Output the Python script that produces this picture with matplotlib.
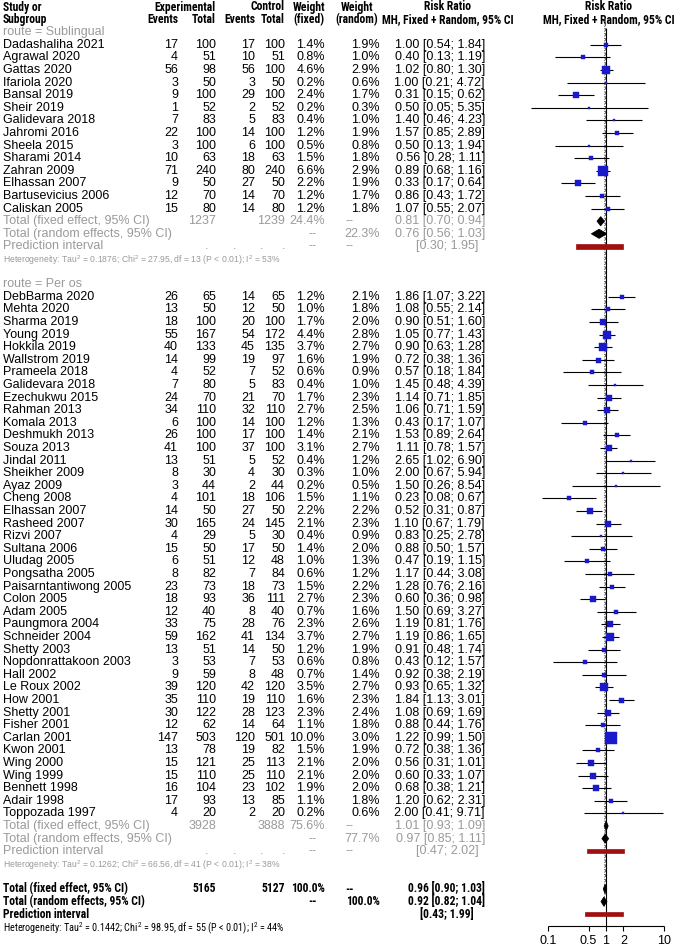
import numpy as np
import matplotlib
matplotlib.use("Agg")
import matplotlib.pyplot as plt
from matplotlib import font_manager
from matplotlib.patches import Polygon, Rectangle

plt.rcParams["font.family"] = ["Liberation Sans", "DejaVu Sans"]
plt.rcParams["mathtext.fontset"] = "custom"
plt.rcParams["mathtext.rm"] = "Liberation Sans"
plt.rcParams["mathtext.default"] = "regular"


def pick_narrow(prefs):
    # first narrow family that also has a bold face
    for name in prefs:
        ws = [f.weight for f in font_manager.fontManager.ttflist if f.name == name]
        if any(w == "bold" or (isinstance(w, int) and w >= 600) for w in ws):
            return name
    return None


NARROW = pick_narrow(["Liberation Sans Narrow", "Arial Narrow", "Roboto Condensed", "PT Sans Narrow"])

# ── Sublingual ──
names_sl = ["Dadashaliha 2021", "Agrawal 2020", "Gattas 2020", "Ifariola 2020", "Bansal 2019",
            "Sheir 2019", "Galidevara 2018", "Jahromi 2016", "Sheela 2015", "Sharami 2014",
            "Zahran 2009", "Elhassan 2007", "Bartusevicius 2006", "Caliskan 2005"]
ev_e_sl = [17, 4, 56, 3, 9, 1, 7, 22, 3, 10, 71, 9, 12, 15]
n_e_sl = [100, 51, 98, 50, 100, 52, 83, 100, 100, 63, 240, 50, 70, 80]
ev_c_sl = [17, 10, 56, 3, 29, 2, 5, 14, 6, 18, 80, 27, 14, 14]
n_c_sl = [100, 51, 100, 50, 100, 52, 83, 100, 100, 63, 240, 50, 70, 80]
wf_sl = [1.4, 0.8, 4.6, 0.2, 2.4, 0.2, 0.4, 1.2, 0.5, 1.5, 6.6, 2.2, 1.2, 1.2]
wr_sl = [1.9, 1.0, 2.9, 0.6, 1.7, 0.3, 1.0, 1.9, 0.8, 1.8, 2.9, 1.9, 1.7, 1.8]
rr_sl = [1.00, 0.40, 1.02, 1.00, 0.31, 0.50, 1.40, 1.57, 0.50, 0.56, 0.89, 0.33, 0.86, 1.07]
lo_sl = [0.54, 0.13, 0.80, 0.21, 0.15, 0.05, 0.46, 0.85, 0.13, 0.28, 0.68, 0.17, 0.43, 0.55]
hi_sl = [1.84, 1.19, 1.30, 4.72, 0.62, 5.35, 4.23, 2.89, 1.94, 1.11, 1.16, 0.64, 1.72, 2.07]

# ── Per os ──
names_po = ["DebBarma 2020", "Mehta 2020", "Sharma 2019", "Young 2019", "Hokkila 2019",
            "Wallstrom 2019", "Prameela 2018", "Galidevara 2018", "Ezechukwu 2015", "Rahman 2013",
            "Komala 2013", "Deshmukh 2013", "Souza 2013", "Jindal 2011", "Sheikher 2009",
            "Ayaz 2009", "Cheng 2008", "Elhassan 2007", "Rasheed 2007", "Rizvi 2007",
            "Sultana 2006", "Uludag 2005", "Pongsatha 2005", "Paisarntantiwong 2005", "Colon 2005",
            "Adam 2005", "Paungmora 2004", "Schneider 2004", "Shetty 2003", "Nopdonrattakoon 2003",
            "Hall 2002", "Le Roux 2002", "How 2001", "Shetty 2001", "Fisher 2001",
            "Carlan 2001", "Kwon 2001", "Wing 2000", "Wing 1999", "Bennett 1998",
            "Adair 1998", "Toppozada 1997"]
ev_e_po = [26, 13, 18, 55, 40, 14, 4, 7, 24, 34, 6, 26, 41, 13, 8, 3, 4, 14, 30, 4,
           15, 6, 8, 23, 18, 12, 33, 59, 13, 3, 9, 39, 35, 30, 12, 147, 13, 15, 15, 16, 17, 4]
n_e_po = [65, 50, 100, 167, 133, 99, 52, 80, 70, 110, 100, 100, 100, 51, 30, 44, 101, 50, 165, 29,
          50, 51, 82, 73, 93, 40, 75, 162, 51, 53, 59, 120, 110, 122, 62, 503, 78, 121, 110, 104, 93, 20]
ev_c_po = [14, 12, 20, 54, 45, 19, 7, 5, 21, 32, 14, 17, 37, 5, 4, 2, 18, 27, 24, 5,
           17, 12, 7, 18, 36, 8, 28, 41, 14, 7, 8, 42, 19, 28, 14, 120, 19, 25, 25, 23, 13, 2]
n_c_po = [65, 50, 100, 172, 135, 97, 52, 83, 70, 110, 100, 100, 100, 52, 30, 44, 106, 50, 145, 30,
          50, 48, 84, 73, 111, 40, 76, 134, 50, 53, 48, 120, 110, 123, 64, 501, 82, 113, 110, 102, 85, 20]
wf_po = [1.2, 1.0, 1.7, 4.4, 3.7, 1.6, 0.6, 0.4, 1.7, 2.7, 1.2, 1.4, 3.1, 0.4, 0.3, 0.2, 1.5, 2.2, 2.1, 0.4,
         1.4, 1.0, 0.6, 1.5, 2.7, 0.7, 2.3, 3.7, 1.2, 0.6, 0.7, 3.5, 1.6, 2.3, 1.1, 10.0, 1.5, 2.1, 2.1, 1.9, 1.1, 0.2]
wr_po = [2.1, 1.8, 2.0, 2.8, 2.7, 1.9, 0.9, 1.0, 2.3, 2.5, 1.3, 2.1, 2.7, 1.2, 1.0, 0.5, 1.1, 2.2, 2.3, 0.9,
         2.0, 1.3, 1.2, 2.2, 2.3, 1.6, 2.6, 2.7, 1.9, 0.8, 1.4, 2.7, 2.3, 2.4, 1.8, 3.0, 1.9, 2.0, 2.0, 2.0, 1.8, 0.6]
rr_po = [1.86, 1.08, 0.90, 1.05, 0.90, 0.72, 0.57, 1.45, 1.14, 1.06, 0.43, 1.53, 1.11, 2.65, 2.00, 1.50, 0.23, 0.52, 1.10, 0.83,
         0.88, 0.47, 1.17, 1.28, 0.60, 1.50, 1.19, 1.19, 0.91, 0.43, 0.92, 0.93, 1.84, 1.08, 0.88, 1.22, 0.72, 0.56, 0.60, 0.68, 1.20, 2.00]
lo_po = [1.07, 0.55, 0.51, 0.77, 0.63, 0.38, 0.18, 0.48, 0.71, 0.71, 0.17, 0.89, 0.78, 1.02, 0.67, 0.26, 0.08, 0.31, 0.67, 0.25,
         0.50, 0.19, 0.44, 0.76, 0.36, 0.69, 0.81, 0.86, 0.48, 0.12, 0.38, 0.65, 1.13, 0.69, 0.44, 0.99, 0.38, 0.31, 0.33, 0.38, 0.62, 0.41]
hi_po = [3.22, 2.14, 1.60, 1.43, 1.28, 1.36, 1.84, 4.39, 1.85, 1.59, 1.07, 2.64, 1.57, 6.90, 5.94, 8.54, 0.67, 0.87, 1.79, 2.78,
         1.57, 1.15, 3.08, 2.16, 0.98, 3.27, 1.76, 1.65, 1.74, 1.57, 2.19, 1.32, 3.01, 1.69, 1.76, 1.50, 1.36, 1.01, 1.07, 1.21, 2.31, 9.71]

# summaries
tot_sl = dict(n_e=1237, n_c=1239, wf="24.4%", wr="22.3%", fixed=(0.81, 0.70, 0.94), random=(0.76, 0.56, 1.03),
              pi=(0.30, 1.95), het=("0.1876", "27.95", "13", "53%"))
tot_po = dict(n_e=3928, n_c=3888, wf="75.6%", wr="77.7%", fixed=(1.01, 0.93, 1.09), random=(0.97, 0.85, 1.11),
              pi=(0.47, 2.02), het=("0.1262", "66.56", "41", "38%"))
tot_all = dict(n_e=5165, n_c=5127, wf="100.0%", wr="100.0%", fixed=(0.96, 0.90, 1.03), random=(0.92, 0.82, 1.04),
               pi=(0.43, 1.99), het=("0.1442", "98.95", "55", "44%"))
x_ticks = [0.1, 0.5, 1, 2, 10]

# ── layout (pixels) ──
W, H = 685, 948
Y0, DY = 7.0, 12.6
X_NAME, X_EVE, X_NE, X_EVC, X_NC, X_WF, X_WR, X_RR = 3, 178, 216, 255, 285, 325, 380, 485
FS = 9.0
HFS = 8.4 if NARROW else 7.2
NARROW_FAM = [NARROW or "Liberation Sans", "Liberation Sans", "DejaVu Sans"]
GREY = "#9a9a9a"
SQ = "#1a1acc"
PI_COL = "#a01010"

fig = plt.figure(figsize=(W / 100, H / 100), dpi=100)
fig.patch.set_facecolor("white")
tax = fig.add_axes([0, 0, 1, 1])
tax.set_xlim(0, W)
ylim = ((H - Y0) / DY, -Y0 / DY)
tax.set_ylim(*ylim)
tax.axis("off")

# forest axes: 0.1 -> px 548, 10 -> px 664
F_L, F_R = 530, 685
PX1, PXDEC = 606, 58.0
fax = fig.add_axes([F_L / W, 0, (F_R - F_L) / W, 1])
fax.set_xscale("log")
fax.set_xlim(10 ** ((F_L - PX1) / PXDEC), 10 ** ((F_R - PX1) / PXDEC))
fax.set_ylim(*ylim)
fax.axis("off")


def txt(x, r, s, ha="right", color="black", bold=False, size=None, narrow=False):
    fam = NARROW_FAM if narrow else ["Liberation Sans", "DejaVu Sans"]
    tax.text(x, r, s, ha=ha, va="center", fontsize=size or (HFS if narrow else FS), color=color,
             fontweight="bold" if bold else "normal", family=fam)


def head(x, r, s, ha="right"):
    txt(x, r, s, ha=ha, bold=True, narrow=True)


# header
head(X_NAME, 0, "Study or", ha="left")
head(X_NAME, 1, "Subgroup", ha="left")
head(X_NE, 0, "Experimental")
head(X_NC, 0, "Control")
for x, s in [(X_EVE, "Events"), (X_NE, "Total"), (X_EVC, "Events"), (X_NC, "Total")]:
    head(x, 1, s)
head(309, 0, "Weight", ha="center")
head(309, 1, "(fixed)", ha="center")
head(357, 0, "Weight", ha="center")
head(357, 1, "(random)", ha="center")
head(448, 0, "Risk Ratio", ha="center")
head(448, 1, "MH, Fixed + Random, 95% CI", ha="center")
head(609, 0, "Risk Ratio", ha="center")
head(609, 1, "MH, Fixed + Random, 95% CI", ha="center")


def diamond(r, est, lo, hi, color="black", h=0.36):
    fax.add_patch(Polygon([(lo, r), (est, r - h), (hi, r), (est, r + h)], closed=True,
                          fc=color, ec=color, lw=0.6, zorder=4))


def summary_rows(r, tot, color, overall):
    kw = dict(color=color, bold=overall, narrow=overall)
    f, m, p = tot["fixed"], tot["random"], tot["pi"]
    # fixed
    txt(X_NAME, r, "Total (fixed effect, 95% CI)", ha="left", **kw)
    txt(X_NE, r, str(tot["n_e"]), **kw)
    txt(X_NC, r, str(tot["n_c"]), **kw)
    txt(X_WF, r, tot["wf"], **kw)
    txt(350, r, "--", ha="center", **kw)
    txt(X_RR, r, f"{f[0]:.2f} [{f[1]:.2f}; {f[2]:.2f}]", **kw)
    diamond(r, *f)
    # random
    txt(X_NAME, r + 1, "Total (random effects, 95% CI)", ha="left", **kw)
    txt(313, r + 1, "--", ha="center", **kw)
    txt(X_WR, r + 1, tot["wr"], **kw)
    txt(X_RR, r + 1, f"{m[0]:.2f} [{m[1]:.2f}; {m[2]:.2f}]", **kw)
    diamond(r + 1, *m)
    # prediction interval
    txt(X_NAME, r + 2, "Prediction interval", ha="left", **kw)
    if not overall:
        for x in (X_EVE + 30, X_NE + 20, X_EVC + 8, X_NC):
            txt(x, r + 2, ".", **kw)
        txt(313, r + 2, "--", ha="center", **kw)
        txt(350, r + 2, "--", ha="center", **kw)
    txt(447, r + 2, f"[{p[0]:.2f}; {p[1]:.2f}]", ha="center", **kw)
    fax.add_patch(Rectangle((p[0], r + 2 - 0.17), p[1] - p[0], 0.34, fc=PI_COL, ec=PI_COL, lw=0.5, zorder=4))
    # heterogeneity
    t2, c2, df, i2 = tot["het"]
    txt(X_NAME, r + 3.12, f"Heterogeneity: Tau$^2$ = {t2}; Chi$^2$ = {c2}, df = {df} (P < 0.01); I$^2$ = {i2}",
        ha="left", color=color, size=7.3 if overall else 6.2, narrow=overall)


def subgroup(r0, label, names, ev_e, n_e, ev_c, n_c, wf, wr, rr, lo, hi, tot):
    txt(X_NAME, r0, label, ha="left", color=GREY)
    for i, name in enumerate(names):
        r = r0 + 1 + i
        txt(X_NAME, r, name, ha="left")
        txt(X_EVE, r, str(ev_e[i]))
        txt(X_NE, r, str(n_e[i]))
        txt(X_EVC, r, str(ev_c[i]))
        txt(X_NC, r, str(n_c[i]))
        txt(X_WF, r, f"{wf[i]:.1f}%")
        txt(X_WR, r, f"{wr[i]:.1f}%")
        txt(X_RR, r, f"{rr[i]:.2f} [{lo[i]:.2f}; {hi[i]:.2f}]")
    rows = r0 + 1 + np.arange(len(names))
    fax.hlines(rows, lo, hi, color="black", lw=0.8, zorder=3)
    ms = 0.72 * 12.5 * np.sqrt(np.array(wf) / 10.0)
    for r, v, s in zip(rows, rr, ms):
        fax.plot(v, r, marker="s", ms=max(s, 1.5), color=SQ, mec=SQ, mew=0.3, zorder=5, ls="none")
    end = r0 + 1 + len(names)
    summary_rows(end, tot, GREY, False)
    return end + 4


r_next = subgroup(2, "route = Sublingual", names_sl, ev_e_sl, n_e_sl, ev_c_sl, n_c_sl,
                  wf_sl, wr_sl, rr_sl, lo_sl, hi_sl, tot_sl)
r_next = subgroup(r_next + 1, "route = Per os", names_po, ev_e_po, n_e_po, ev_c_po, n_c_po,
                  wf_po, wr_po, rr_po, lo_po, hi_po, tot_po)
r_all = r_next + 1
summary_rows(r_all, tot_all, "black", True)

# reference lines
r_axis = r_all + 2.9
fax.vlines(1, 1.7, r_axis, color="black", lw=0.8, zorder=2)
fax.vlines(tot_all["fixed"][0], 0.9, r_all + 0.4, color="#666666", lw=0.7, ls=(0, (3, 2)), zorder=2)
fax.vlines(tot_all["random"][0], 0.9, r_all + 1.4, color="#666666", lw=0.7, ls=(0, (1, 1.5)), zorder=2)

# bottom axis
fax.hlines(r_axis, x_ticks[0], x_ticks[-1], color="black", lw=0.8)
fax.vlines(x_ticks, r_axis, r_axis + 0.4, color="black", lw=0.8)
for t in x_ticks:
    fax.text(t, r_axis + 1.2, f"{t:g}", ha="center", va="center", fontsize=FS)

fig.savefig("out.png", dpi=100, facecolor="white")
